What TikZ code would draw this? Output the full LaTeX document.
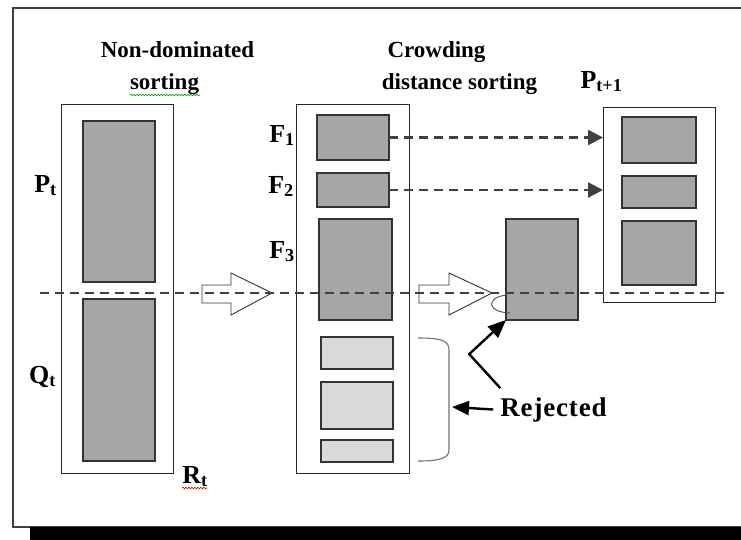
\documentclass[tikz,border=0pt]{standalone}
\usepackage{fontspec}
\setmainfont{Liberation Serif}
\usetikzlibrary{positioning,arrows.meta,decorations.pathmorphing}

\begin{document}
\begin{tikzpicture}[x=1pt,y=-1pt,
  >={Triangle[length=15pt,width=15pt]},
  pop/.style={draw=black!85,line width=0.8pt,fill=white,inner sep=0pt,outer sep=0pt},
  sol/.style={draw=black!80,line width=1.2pt,fill=black!35,inner sep=0pt,outer sep=0pt},
  lost/.style={draw=black!80,line width=1.2pt,fill=black!15,inner sep=0pt,outer sep=0pt},
  head/.style={font=\fontsize{23}{25}\selectfont\bfseries,anchor=base,inner sep=0pt},
  lab/.style={font=\fontsize{26}{28}\selectfont\bfseries,anchor=base,inner sep=0pt},
  cut/.style={dash pattern=on 9pt off 6pt,line width=2.4pt,draw=black!75},
  blk/.style={draw=black!80,line width=0.9pt,fill=white},
  squig/.style={decorate,decoration={snake,amplitude=0.8pt,segment length=3pt},line width=0.6pt}]
\clip (0,0) rectangle (741,539);
\useasboundingbox (0,0) rectangle (741,539);
% page frame and shadow
\draw[draw=black!75,line width=1.2pt] (13,8) rectangle (760,527);
\fill[black] (30,527) rectangle (760,545);

% R_t = P_t + Q_t
\node[pop,minimum width=112pt,minimum height=369pt] (rt) at (117,288.5) {};
\node[sol,minimum width=72pt,minimum height=161pt] (pt) at (119,201.5) {};
\node[sol,minimum width=72pt,minimum height=162pt] (qt) at (119,380) {};

% fronts
\node[pop,minimum width=113pt,minimum height=369pt] (fr) at (352.5,288.5) {};
\node[sol,minimum width=72pt,minimum height=45pt] (f1) at (353,137.5) {};
\node[sol,minimum width=72pt,minimum height=34pt] (f2) at (353,190) {};
\node[sol,minimum width=73pt,minimum height=101pt] (f3) at (355.5,269.5) {};
\node[lost,minimum width=72pt,minimum height=32pt] (r1) at (357,353) {};
\node[lost,minimum width=72pt,minimum height=47pt] (r2) at (357,405.5) {};
\node[lost,minimum width=72pt,minimum height=22pt] (r3) at (357,451) {};

% cut part of F3
\node[sol,minimum width=72pt,minimum height=101pt] (f3b) at (542,269.5) {};

% P_{t+1}
\node[pop,minimum width=112pt,minimum height=195pt] (pn) at (659,204.5) {};
\node[sol,minimum width=74pt,minimum height=46pt] (n1) at (659,140) {};
\node[sol,minimum width=74pt,minimum height=32pt] (n2) at (659,192) {};
\node[sol,minimum width=74pt,minimum height=64pt] (n3) at (659,253) {};

% labels
\node[head] (hnd) at (177.5,57) {Non-dominated};
\node[head] (hnds) at (164.5,89) {sorting};
\node[head] (hcd) at (436.5,57) {Crowding};
\node[head] (hcds) at (459.5,89) {distance sorting};
\node[lab] (lpt) at (45.5,192) {P\textsubscript{t}};
\node[lab] (lqt) at (42.5,383) {Q\textsubscript{t}};
\node[lab] (lrt) at (195,483) {R\textsubscript{t}};
\node[lab] (lf1) at (282,142) {F\textsubscript{1}};
\node[lab] (lf2) at (281,193) {F\textsubscript{2}};
\node[lab] (lf3) at (282,258) {F\textsubscript{3}};
\node[lab] (lpn) at (601.5,88) {P\textsubscript{t+1}};
\node[lab,font=\fontsize{27}{29}\selectfont\bfseries\addfontfeature{LetterSpace=3}] (rej) at (553.5,416) {Rejected};

\draw[squig,green!60!black] (130,95) -- (200,95);
\draw[squig,red!80!black] (182,488) -- (207,488);

% block arrows
\draw[blk] (202,285) -- (231,285) -- (231,273) -- (272,293) -- (231,315) -- (231,303) -- (202,303) -- cycle;
\draw[blk] (419,285) -- (449,285) -- (449,273) -- (492,293) -- (449,315) -- (449,303) -- (419,303) -- cycle;

% cut line
\coordinate (cl) at (40,293);
\coordinate (cr) at (728,293);
\draw[cut] (cl) -- (cr);

% selected fronts
\draw[cut,->] (f1.east) -- (f1.east -| pn.west);
\draw[cut,->] (f2.east) -- (f2.east -| pn.west);

% rejected
\draw[draw=black!70,line width=0.9pt] (507,295) .. controls (486,297) and (486,312) .. (510,313);
\coordinate (brk) at (452,407);
\draw[draw=black!55,line width=1.1pt] (418,338) .. controls (440,338) and (449,340) .. (449,350)
  -- (449,450) .. controls (449,458) and (440,461) .. (418,461);
\draw[->,line width=2.4pt,>={Triangle[length=17pt,width=14pt]}] ([xshift=-7pt]rej.west) -- (brk);
\draw[->,line width=2.4pt,>={Triangle[length=18pt,width=15pt]}] ([yshift=9pt]rej.north west) -- ++(-31,-34) -- (f3b.south west);
\end{tikzpicture}
\end{document}
